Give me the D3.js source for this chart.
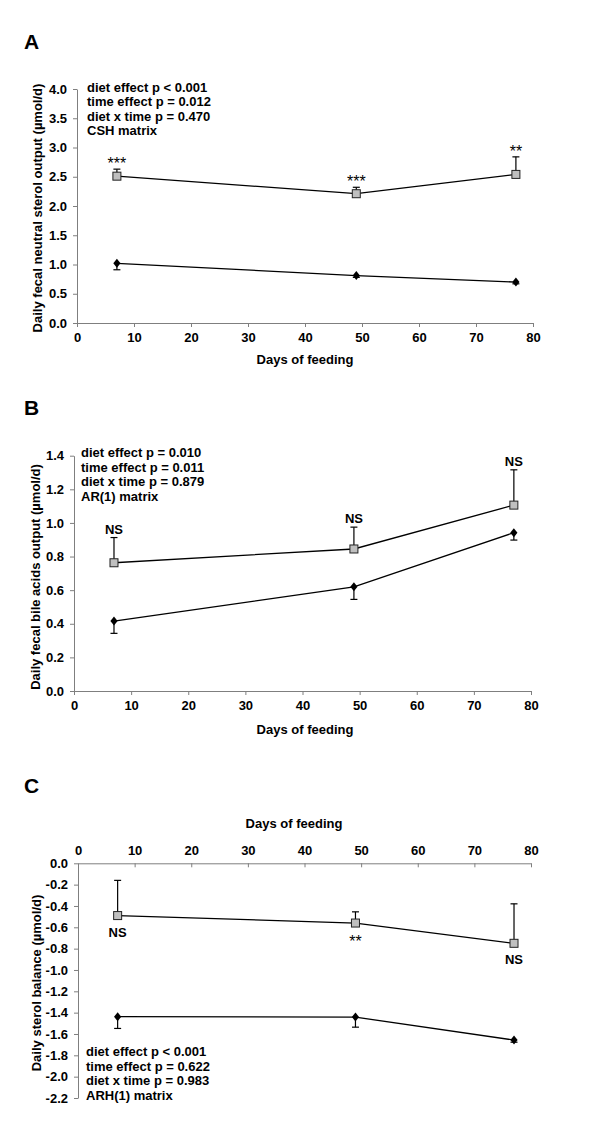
<!DOCTYPE html>
<html>
<head>
<meta charset="utf-8">
<script src="https://d3js.org/d3.v7.min.js"></script>
<style>
body { margin: 0; background: #fff; }
svg text { font-family: "Liberation Sans", Arial, sans-serif; }
.axis path, .axis line { stroke: #7f7f7f; stroke-width: 1; }
.axis text { font-size: 13px; font-weight: bold; fill: #000; }
.stat { font-size: 13px; font-weight: bold; }
.ttl { font-size: 13px; font-weight: bold; }
</style>
</head>
<body>
<svg id="chart" width="600" height="1141"></svg>
<script>
// days the samples were taken
var days = [7, 49, 77];
var xTicks = [0, 10, 20, 30, 40, 50, 60, 70, 80];

// A - neutral sterols
var neutralSq = [2.51, 2.21, 2.54];
var neutralSqErr = [0.12, 0.11, 0.30];
var neutralDm = [1.02, 0.81, 0.70];
var neutralDmErr = [0.11, 0.03, 0.03];
var neutralMarks = ["***", "***", "**"];
var neutralStats = ["diet effect p < 0.001", "time effect p = 0.012", "diet x time p = 0.470", "CSH matrix"];
var neutralTicks = [0, 0.5, 1, 1.5, 2, 2.5, 3, 3.5, 4];

// B - bile acids
var bileSq = [0.763, 0.845, 1.106];
var bileSqErr = [0.15, 0.13, 0.21];
var bileDm = [0.416, 0.62, 0.942];
var bileDmErr = [0.073, 0.075, 0.044];
var bileMarks = ["NS", "NS", "NS"];
var bileStats = ["diet effect p = 0.010", "time effect p = 0.011", "diet x time p = 0.879", "AR(1) matrix"];
var bileTicks = [0, 0.2, 0.4, 0.6, 0.8, 1.0, 1.2, 1.4];

// C - sterol balance
var balSq = [-0.49, -0.56, -0.75];
var balSqErr = [0.33, 0.105, 0.37];
var balDm = [-1.438, -1.441, -1.657];
var balDmErr = [0.11, 0.095, 0.02];
var balMarks = ["NS", "**", "NS"];
var balStats = ["diet effect p < 0.001", "time effect p = 0.622", "diet x time p = 0.983", "ARH(1) matrix"];
var balTicks = [0, -0.2, -0.4, -0.6, -0.8, -1.0, -1.2, -1.4, -1.6, -1.8, -2.0, -2.2];

var svg = d3.select("#chart");

function panel(o){
	var g = svg.append("g");
	var x = d3.scaleLinear().domain([0, 80]).range([o.left, o.right]);
	var y = d3.scaleLinear().domain(o.yDomain).range([o.bottom, o.top]);

	// y axis
	g.append("g")
		.attr("class", "axis")
		.attr("transform", "translate(" + o.left + ",0)")
		.call(d3.axisLeft(y).tickValues(o.yTicks).tickSizeInner(4).tickSizeOuter(0).tickPadding(6)
			.tickFormat(function(d){ return d.toFixed(1); }));

	// x axis (top for balance panel)
	var xa;
	if(o.xTop){
		xa = d3.axisTop(x).tickSizeInner(-4).tickPadding(8);
	}else{
		xa = d3.axisBottom(x).tickSizeInner(4).tickPadding(6);
	}
	g.append("g")
		.attr("class", "axis")
		.attr("transform", "translate(0," + y(0) + ")")
		.call(xa.tickValues(xTicks).tickSizeOuter(0));

	// lines
	var line = d3.line()
		.x(function(d, i){ return x(days[i]); })
		.y(function(d){ return y(d); });
	[o.sq, o.dm].forEach(function(s){
		g.append("path").attr("d", line(s))
			.attr("fill", "none").attr("stroke", "#000").attr("stroke-width", 1.3);
	});

	// error bars: square upwards, diamond downwards
	function bars(vals, errs, dir){
		vals.forEach(function(v, i){
			var cx = x(days[i]);
			var y2 = y(v + dir * errs[i]);
			g.append("line").attr("x1", cx).attr("x2", cx).attr("y1", y(v)).attr("y2", y2)
				.attr("stroke", "#000").attr("stroke-width", 1.2);
			g.append("line").attr("x1", cx - 3.5).attr("x2", cx + 3.5).attr("y1", y2).attr("y2", y2)
				.attr("stroke", "#000").attr("stroke-width", 1.2);
		});
	}
	bars(o.sq, o.sqErr, 1);
	bars(o.dm, o.dmErr, -1);

	// markers
	g.selectAll(".sq").data(o.sq).enter().append("rect")
		.attr("x", function(d, i){ return x(days[i]) - 4; })
		.attr("y", function(d){ return y(d) - 4; })
		.attr("width", 8).attr("height", 8)
		.attr("fill", "#bfbfbf").attr("stroke", "#222").attr("stroke-width", 1);
	g.selectAll(".dm").data(o.dm).enter().append("path")
		.attr("transform", function(d, i){ return "translate(" + x(days[i]) + "," + y(d) + ")"; })
		.attr("d", "M0,-4.5L3.6,0L0,4.5L-3.6,0Z")
		.attr("fill", "#000");

	// significance marks
	o.marks.forEach(function(m, i){
		var star = m.indexOf("*") >= 0;
		var ty;
		if(o.marksBelow){
			ty = y(o.sq[i]) + (star ? 24 : 21);
		}else{
			ty = y(o.sq[i] + o.sqErr[i]) + (star ? 0 : -4);
		}
		g.append("text")
			.attr("x", x(days[i]))
			.attr("y", ty)
			.attr("text-anchor", "middle")
			.style("font-size", star ? "16px" : "13px")
			.style("font-weight", star ? "normal" : "bold")
			.text(m);
	});

	// stats block
	o.stats.forEach(function(s, i){
		g.append("text").attr("class", "stat")
			.attr("x", o.statX).attr("y", o.statY + i * 14.5)
			.text(s);
	});

	// axis titles
	g.append("text").attr("class", "ttl")
		.attr("transform", "translate(" + o.yTitleX + "," + o.yTitleY + ") rotate(-90)")
		.attr("text-anchor", "middle")
		.text(o.yTitle);
	g.append("text").attr("class", "ttl")
		.attr("x", o.xTitleX).attr("y", o.xTitleY)
		.attr("text-anchor", "middle")
		.text("Days of feeding");

	// panel letter
	g.append("text")
		.attr("x", 24).attr("y", o.letterY)
		.style("font-size", "21px").style("font-weight", "bold")
		.text(o.letter);
}

panel({
	letter: "A", letterY: 49,
	left: 77, right: 533, top: 89, bottom: 323,
	yDomain: [0, 4], yTicks: neutralTicks,
	sq: neutralSq, sqErr: neutralSqErr, dm: neutralDm, dmErr: neutralDmErr,
	marks: neutralMarks, marksBelow: false,
	stats: neutralStats, statX: 87, statY: 91.5,
	yTitle: "Daily fecal neutral sterol output (\u00b5mol/d)", yTitleX: 42, yTitleY: 208,
	xTitleX: 305, xTitleY: 364
});

panel({
	letter: "B", letterY: 415,
	left: 74, right: 531, top: 455.7, bottom: 691,
	yDomain: [0, 1.4], yTicks: bileTicks,
	sq: bileSq, sqErr: bileSqErr, dm: bileDm, dmErr: bileDmErr,
	marks: bileMarks, marksBelow: false,
	stats: bileStats, statX: 81, statY: 457,
	yTitle: "Daily fecal bile acids output (\u00b5mol/d)", yTitleX: 40, yTitleY: 577,
	xTitleX: 305, xTitleY: 734
});

panel({
	letter: "C", letterY: 793,
	left: 78, right: 531, top: 863.3, bottom: 1098,
	yDomain: [-2.2, 0], yTicks: balTicks, xTop: true,
	sq: balSq, sqErr: balSqErr, dm: balDm, dmErr: balDmErr,
	marks: balMarks, marksBelow: true,
	stats: balStats, statX: 86, statY: 1056,
	yTitle: "Daily sterol balance (\u00b5mol/d)", yTitleX: 41, yTitleY: 983,
	xTitleX: 294, xTitleY: 828
});
</script>
</body>
</html>
